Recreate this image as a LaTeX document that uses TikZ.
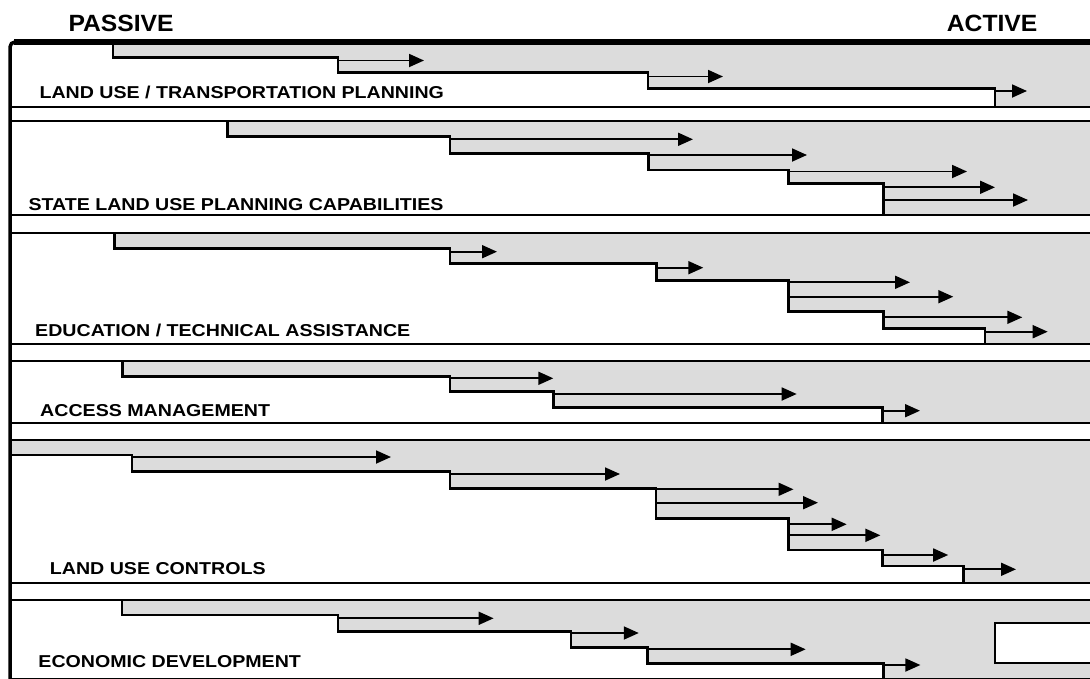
\documentclass[tikz,border=0pt]{standalone}
\usepackage{fontspec}
\setmainfont{Liberation Sans}
\usetikzlibrary{arrows.meta}
\definecolor{shade}{RGB}{220,220,220}
\tikzset{
  stair/.style={line width=2.9pt, line join=miter},
  rule/.style={line width=2pt},
  flow/.style={line width=1.8pt, -{Triangle[length=15pt,width=13pt]}},
  tone/.style={fill=shade},
  bandlabel/.style={anchor=base west, inner sep=0pt, xscale=1.14,
    font=\bfseries\fontsize{17.2}{18}\selectfont},
  pole/.style={anchor=base west, inner sep=0pt, xscale=1.05,
    font=\bfseries\fontsize{23.5}{24}\selectfont},
}
% one horizontal arrow: name, start x, y, tip x
\newcommand\flowarrow[4]{%
  \coordinate (#1s) at (#2,#3);
  \coordinate (#1e) at (#4,#3);
  \draw[flow] (#1s) -- (#1e);}

\begin{document}
\begin{tikzpicture}[x=1pt,y=-1pt]
\useasboundingbox (0,0) rectangle (1090,678);
\clip (0,0) rectangle (1090,678);

% staircase outlines of the six bands
\def\stairsA{(113,42) -- (113,57.5) -- (338,57.5) -- (338,72.7) -- (648,72.7) -- (648,88.3) -- (995,88.3) -- (995,106.5)}
\def\stairsB{(227.7,120.7) -- (227.7,136.7) -- (450,136.7) -- (450,153.3) -- (648.3,153.3) -- (648.3,170) -- (788.3,170) -- (788.3,183.3) -- (883.3,183.3) -- (883.3,215)}
\def\stairsC{(114.3,232.7) -- (114.3,248.3) -- (450,248.3) -- (450,263.3) -- (656.7,263.3) -- (656.7,280.5) -- (788.3,280.5) -- (788.3,311.7) -- (883.3,311.7) -- (883.3,328.3) -- (985,328.3) -- (985,344)}
\def\stairsD{(122.7,360.7) -- (122.7,376.7) -- (450,376.7) -- (450,391.7) -- (553.3,391.7) -- (553.3,407.7) -- (882.3,407.7) -- (882.3,422.7)}
\def\stairsE{(10,455) -- (132,455) -- (132,471.7) -- (450,471.7) -- (450,488.3) -- (656,488.3) -- (656,518.3) -- (788.3,518.3) -- (788.3,550) -- (882.8,550) -- (882.8,566) -- (963.8,566) -- (963.8,583.3)}
\def\stairsF{(122,600) -- (122,615) -- (338,615) -- (338,631.5) -- (571,631.5) -- (571,647.3) -- (647.5,647.3) -- (647.5,663.3) -- (883.9,663.3) -- (883.9,678)}

% shaded areas above each staircase
\fill[tone] \stairsA -- (1095,106.5) -- (1095,42) -- cycle;
\fill[tone] \stairsB -- (1095,215) -- (1095,120.7) -- cycle;
\fill[tone] \stairsC -- (1095,344) -- (1095,232.7) -- cycle;
\fill[tone] \stairsD -- (1095,422.7) -- (1095,360.7) -- cycle;
\fill[tone] (10,440) -- \stairsE -- (1095,583.3) -- (1095,440) -- cycle;
\fill[tone] \stairsF -- (1095,678) -- (1095,600) -- cycle;

% band rules
\foreach \y in {106.5,120.7,215,232.7,344,360.7,422.7,440,583.3,600,678.6}
  \draw[rule] (10,\y) -- (1095,\y);

% staircases
\draw[stair] \stairsA;
\draw[stair] \stairsB;
\draw[stair] \stairsC;
\draw[stair] \stairsD;
\draw[stair] \stairsE;
\draw[stair] \stairsF;

% arrows, band 1
\flowarrow{a1}{338}{60.5}{424}
\flowarrow{a2}{648}{76.5}{723}
\flowarrow{a3}{995}{91}{1027}
% band 2
\flowarrow{b1}{450}{139.3}{693}
\flowarrow{b2}{648.3}{155}{807}
\flowarrow{b3}{788.3}{171.5}{967}
\flowarrow{b4}{883.3}{187.3}{995}
\flowarrow{b5}{883.3}{200}{1028}
% band 3
\flowarrow{c1}{450}{251.7}{497}
\flowarrow{c2}{656.7}{267.7}{703.3}
\flowarrow{c3}{788.3}{282.3}{910}
\flowarrow{c4}{788.3}{296.7}{953.3}
\flowarrow{c5}{883.3}{317.3}{1022.3}
\flowarrow{c6}{985}{331.7}{1047.7}
% band 4
\flowarrow{d1}{450}{378.3}{553.3}
\flowarrow{d2}{553.3}{394}{796.7}
\flowarrow{d3}{882.3}{410.7}{920}
% band 5
\flowarrow{e1}{132}{457}{391}
\flowarrow{e2}{450}{474}{620}
\flowarrow{e3}{656}{489.3}{793.5}
\flowarrow{e4}{656}{502.7}{818}
\flowarrow{e5}{788.3}{524.3}{846.7}
\flowarrow{e6}{788.3}{535.3}{880.4}
\flowarrow{e7}{882.8}{555}{948.2}
\flowarrow{e8}{963.8}{569.3}{1016}
% band 6
\flowarrow{f1}{338}{618.3}{493.6}
\flowarrow{f2}{571}{633}{638.8}
\flowarrow{f3}{647.5}{649.3}{805.7}
\flowarrow{f4}{883.9}{665}{920.4}

% empty box at the active end of the last band
\draw[rule, fill=white] (995,622.7) rectangle (1100,662.7);

% band labels
\node[bandlabel] (lA) at (39.3,98.3) {LAND USE / TRANSPORTATION PLANNING};
\node[bandlabel] (lB) at (28.3,210.7) {STATE LAND USE PLANNING CAPABILITIES};
\node[bandlabel] (lC) at (35,336.7) {EDUCATION / TECHNICAL ASSISTANCE};
\node[bandlabel] (lD) at (40,416.7) {ACCESS MANAGEMENT};
\node[bandlabel] (lE) at (49.7,574) {LAND USE CONTROLS};
\node[bandlabel] (lF) at (38.2,667.3) {ECONOMIC DEVELOPMENT};

% scale ends
\node[pole] (passive) at (68.3,31.7) {PASSIVE};
\node[pole] (active) at (946.7,31.7) {ACTIVE};

% outer frame
\draw[line width=3.5pt, rounded corners=5pt] (10,690) -- (10,42) -- (1095,42);
\draw[line width=5.5pt] (14,42) -- (1095,42);
\end{tikzpicture}
\end{document}
